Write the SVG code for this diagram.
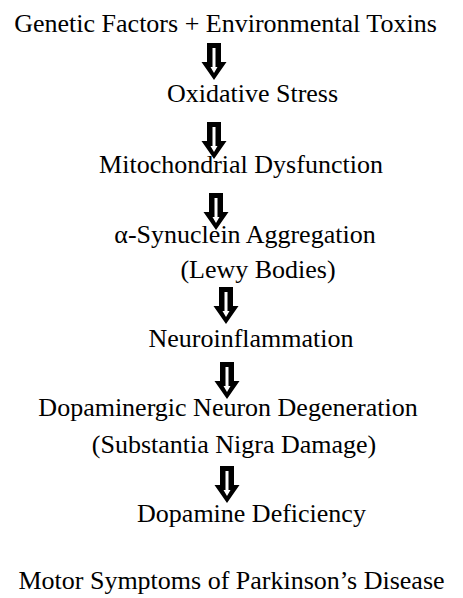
<svg xmlns="http://www.w3.org/2000/svg" width="463" height="598" viewBox="0 0 463 598">
<style>
.t{font-family:'Liberation Serif',serif;font-size:26px;fill:#000;text-anchor:middle}
</style>
<defs>
<g id="arr">
<path d="M-7,0 H7 V19 H12.5 L0,37 L-12.5,19 H-7 Z" fill="#000"/>
<path d="M-1.5,5 H1.5 V24 H3.5 L0,30 L-3.5,24 H-1.5 Z" fill="#fff"/>
</g>
</defs>
<rect width="463" height="598" fill="#fff"/>
<g id="connectors">
<use href="#arr" x="214" y="43"/>
<use href="#arr" x="214" y="122"/>
<use href="#arr" x="216" y="193"/>
<use href="#arr" x="226" y="287"/>
<use href="#arr" x="227" y="362"/>
<use href="#arr" x="227" y="466"/>
</g>
<g font-family="Liberation Serif, serif">
<g id="n1"><text class="t" x="225.5" y="32">Genetic Factors + Environmental Toxins</text></g>
<g id="n2"><text class="t" x="252.5" y="102">Oxidative Stress</text></g>
<g id="n3"><text class="t" x="241" y="173">Mitochondrial Dysfunction</text></g>
<g id="n4"><text class="t" x="245" y="243">α-Synuclein Aggregation</text><text class="t" x="258" y="278">(Lewy Bodies)</text></g>
<g id="n5"><text class="t" x="251" y="347">Neuroinflammation</text></g>
<g id="n6"><text class="t" x="228" y="416">Dopaminergic Neuron Degeneration</text><text class="t" x="234" y="453">(Substantia Nigra Damage)</text></g>
<g id="n7"><text class="t" x="251.5" y="522">Dopamine Deficiency</text></g>
<g id="n8"><text class="t" x="231.5" y="589">Motor Symptoms of Parkinson’s Disease</text></g>
</g>
</svg>
